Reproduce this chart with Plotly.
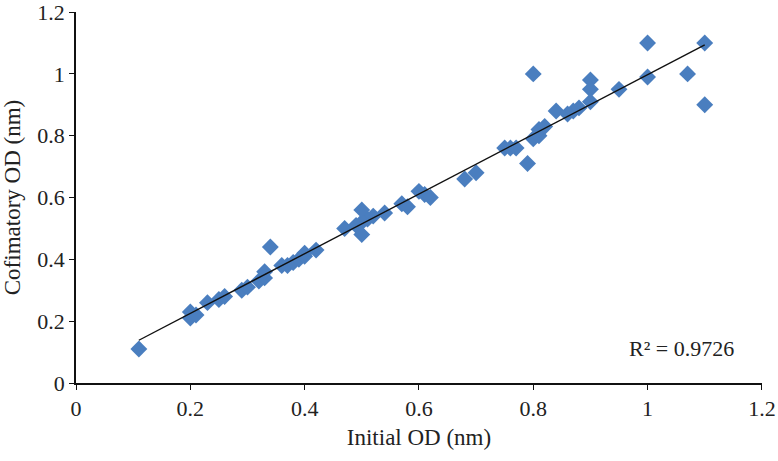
import numpy as np
import plotly.graph_objects as go

initial_od = [0.11, 0.20, 0.20, 0.21, 0.23, 0.25, 0.26, 0.29, 0.30, 0.32, 0.33, 0.33,
              0.34, 0.36, 0.37, 0.38, 0.39, 0.40, 0.40, 0.42, 0.47, 0.49, 0.50, 0.50,
              0.50, 0.51, 0.52, 0.54, 0.57, 0.58, 0.60, 0.61, 0.62, 0.68, 0.70, 0.75,
              0.76, 0.77, 0.79, 0.80, 0.80, 0.81, 0.81, 0.82, 0.84, 0.86, 0.87, 0.88,
              0.90, 0.90, 0.90, 0.95, 1.00, 1.00, 1.07, 1.10, 1.10]
confirm_od = [0.11, 0.23, 0.21, 0.22, 0.26, 0.27, 0.28, 0.30, 0.31, 0.33, 0.34, 0.36,
              0.44, 0.38, 0.38, 0.39, 0.40, 0.41, 0.42, 0.43, 0.50, 0.51, 0.52, 0.56,
              0.48, 0.53, 0.54, 0.55, 0.58, 0.57, 0.62, 0.61, 0.60, 0.66, 0.68, 0.76,
              0.76, 0.76, 0.71, 0.79, 1.00, 0.80, 0.82, 0.83, 0.88, 0.87, 0.88, 0.89,
              0.98, 0.95, 0.91, 0.95, 1.10, 0.99, 1.00, 1.10, 0.90]

x_ticks = [0, 0.2, 0.4, 0.6, 0.8, 1, 1.2]
y_ticks = [0, 0.2, 0.4, 0.6, 0.8, 1, 1.2]
r2_label = "R² = 0.9726"

xs = np.array(initial_od)
ys = np.array(confirm_od)
slope, intercept = np.polyfit(xs, ys, 1)
line_x = np.array([xs.min(), xs.max()])
line_y = slope * line_x + intercept

font_family = "Liberation Serif, Times New Roman, serif"
txt_color = "#222222"

fig = go.Figure()
fig.add_trace(go.Scatter(
    x=initial_od, y=confirm_od, mode="markers",
    marker=dict(symbol="diamond", size=13, color="#4a7ebf", line=dict(width=0)),
    showlegend=False, hoverinfo="x+y"))
fig.add_trace(go.Scatter(
    x=line_x, y=line_y, mode="lines",
    line=dict(color="#111111", width=1.4), showlegend=False, hoverinfo="skip"))

fig.add_annotation(x=1.06, y=0.112, xref="x", yref="y", text=r2_label,
                   showarrow=False, font=dict(family=font_family, size=22, color=txt_color))

axis_common = dict(showgrid=False, zeroline=False, showline=True, linecolor="#111111",
                   linewidth=1.5, ticks="outside", ticklen=5, tickwidth=1.3,
                   tickcolor="#111111", tickfont=dict(family=font_family, size=22, color=txt_color),
                   ticklabeloverflow="allow", range=[0, 1.2002])
fig.update_xaxes(**axis_common, tickvals=x_ticks, ticktext=[f"{v:g}" for v in x_ticks],
                 title=dict(text="Initial OD (nm)", font=dict(family=font_family, size=23, color=txt_color),
                            standoff=9))
fig.update_yaxes(**axis_common, tickvals=y_ticks, ticktext=[f"{v:g}" for v in y_ticks],
                 title=dict(text="Cofimatory OD (nm)", font=dict(family=font_family, size=23, color=txt_color),
                            standoff=12))

fig.update_layout(width=778, height=461, margin=dict(l=76, r=16, t=12, b=78, autoexpand=False),
                  plot_bgcolor="white", paper_bgcolor="white")
fig.write_html("out.html", config={"displayModeBar": False},
               post_script="document.body.style.margin='0';")
